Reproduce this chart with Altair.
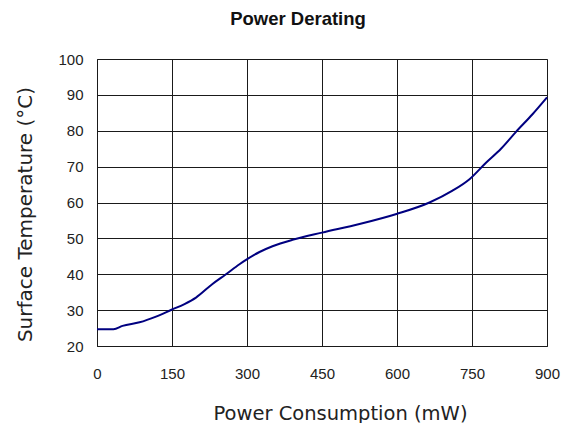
import altair as alt
import pandas as pd

power = [0, 33, 51, 85, 118, 149, 175, 198, 231, 258, 285, 298, 325, 351, 391,
         450, 525, 599, 665, 711, 745, 778, 808, 838, 871, 900]
temp = [24.7, 24.7, 25.6, 26.6, 28.2, 30.1, 31.7, 33.5, 37.3, 40.0, 42.8, 44.0,
        46.2, 47.8, 49.6, 51.6, 54.0, 56.8, 60.0, 63.3, 66.5, 71.1, 75.0, 79.7,
        84.6, 89.3]
x_ticks = [0, 150, 300, 450, 600, 750, 900]
y_ticks = [20, 30, 40, 50, 60, 70, 80, 90, 100]

df = pd.DataFrame({"power": power, "temp": temp})

chart = alt.Chart(df).mark_line(
    color="#000080", strokeWidth=2, interpolate="monotone"
).encode(
    x=alt.X("power:Q", scale=alt.Scale(domain=[0, 900], nice=False),
            axis=alt.Axis(values=x_ticks, title="Power Consumption (mW)",
                          grid=True, gridColor="#1a1a1a", gridOpacity=1,
                          ticks=False, domainColor="#1a1a1a", labelFlush=False,
                          labelFont="Liberation Sans", labelFontSize=15,
                          labelColor="#222", labelPadding=20,
                          titleFont="DejaVu Sans", titleFontSize=19.5,
                          titleFontWeight="normal", titleColor="#222",
                          titleX=243, titleY=67, titleBaseline="middle")),
    y=alt.Y("temp:Q", scale=alt.Scale(domain=[20, 100], nice=False),
            axis=alt.Axis(values=y_ticks, title="Surface Temperature (\u00b0C)",
                          grid=True, gridColor="#1a1a1a", gridOpacity=1,
                          ticks=False, domainColor="#1a1a1a", labelFlush=False,
                          labelFont="Liberation Sans", labelFontSize=15,
                          labelColor="#222", labelPadding=14,
                          titleFont="DejaVu Sans", titleFontSize=20,
                          titleFontWeight="normal", titleColor="#222",
                          titleX=-72, titleY=155, titleBaseline="middle")),
).properties(
    width=450, height=287,
    autosize=alt.AutoSizeParams(type="none"),
    padding={"left": 89, "top": 51, "right": 14, "bottom": 77},
    title=alt.TitleParams("Power Derating", font="Liberation Sans", fontSize=18.5,
                          fontWeight="bold", color="#111", dx=-24, offset=9,
                          frame="group", baseline="alphabetic"),
).configure_view(stroke="#999", strokeWidth=1)

chart.save("out.html", embed_options={"renderer": "svg", "actions": False})
